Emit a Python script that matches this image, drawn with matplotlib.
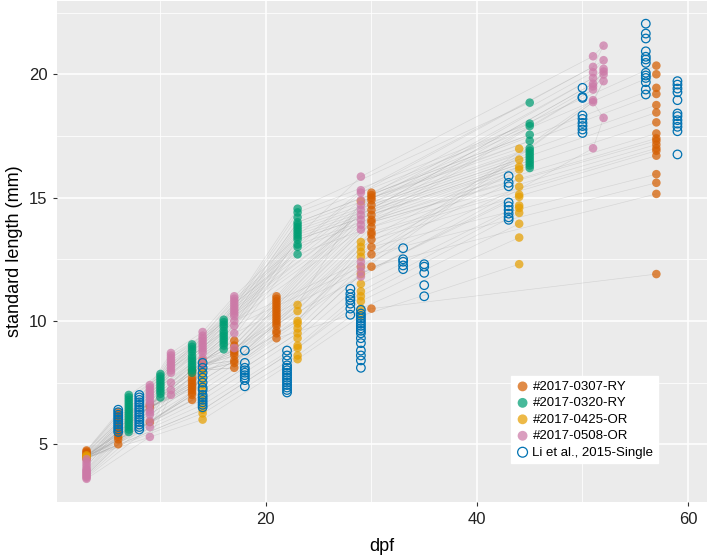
import numpy as np
import matplotlib
matplotlib.use('Agg')
import matplotlib.pyplot as plt

plt.rcParams['font.family'] = ['Liberation Sans', 'DejaVu Sans']

# standard length (mm) per day post fertilisation, one list per sampling day
orange_days = [3, 6, 9, 13, 14, 17, 21, 30, 57]
orange_sl = [
    [4.75, 4.7, 4.65, 4.6, 4.55, 4.5, 4.45, 4.4],
    [6.3, 6.2, 6.1, 6.0, 5.9, 5.8, 5.7, 5.6, 5.5, 5.4, 5.3, 5.2, 5.0],
    [6.6, 6.5, 5.9],
    [8.0, 7.9, 7.7, 7.6, 7.5, 7.4, 7.3, 7.2, 7.1, 7.0, 6.8],
    [8.4, 8.2, 8.0],
    [9.2, 9.0, 8.8, 8.7, 8.6, 8.4, 8.3, 8.1],
    [11.0, 10.9, 10.8, 10.7, 10.6, 10.5, 10.4, 10.3, 10.2, 10.1, 10.0, 9.9, 9.8, 9.6, 9.5, 9.3],
    [15.2, 15.1, 15.0, 14.9, 14.7, 14.5, 14.3, 14.1, 14.0, 13.8, 13.6, 13.5, 13.3, 13.0, 12.7, 12.2, 10.5],
    [20.35, 20.0, 19.45, 19.2, 18.75, 18.45, 18.05, 17.6, 17.4, 17.3, 17.15, 17.0, 16.9, 16.7,
     15.95, 15.6, 15.15, 11.9],
]

green_days = [7, 10, 13, 16, 23, 45]
green_sl = [
    [7.0, 6.9, 6.8, 6.7, 6.6, 6.5, 6.4, 6.3, 6.2, 6.1, 6.0, 5.9, 5.8, 5.7, 5.6, 5.5],
    [7.85, 7.75, 7.65, 7.55, 7.45, 7.35, 7.25, 7.15, 7.05, 6.9],
    [9.05, 8.95, 8.85, 8.75, 8.6, 8.5, 8.4, 8.3, 8.2, 8.1, 8.0, 7.9],
    [10.05, 9.95, 9.85, 9.75, 9.6, 9.5, 9.4, 9.3, 9.2, 9.1, 9.0, 8.85],
    [14.55, 14.4, 14.2, 14.0, 13.9, 13.8, 13.7, 13.6, 13.5, 13.4, 13.3, 13.1, 13.0, 12.7],
    [18.85, 18.0, 17.9, 17.55, 17.3, 17.0, 16.9, 16.8, 16.7, 16.6, 16.5, 16.4, 16.3, 16.2],
]

yellow_days = [3, 14, 23, 29, 44]
yellow_sl = [
    [4.55, 4.5, 4.45],
    [8.0, 7.8, 7.6, 7.4, 7.2, 7.0, 6.8, 6.6, 6.4, 6.25, 6.0],
    [10.65, 10.4, 10.0, 9.9, 9.7, 9.5, 9.3, 9.0, 8.9, 8.6, 8.45],
    [14.85, 13.2, 13.0, 12.8, 12.6, 12.2, 11.9, 11.5, 11.2, 11.0, 10.8, 10.5, 10.2],
    [16.98, 16.54, 16.25, 16.14, 15.79, 15.44, 15.12, 15.03, 14.68, 14.58, 14.38, 13.94, 13.38, 12.3],
]

pink_days = [3, 9, 11, 14, 17, 29, 51, 52]
pink_sl = [
    [4.4, 4.3, 4.2, 4.1, 4.0, 3.95, 3.9, 3.85, 3.8, 3.75, 3.7, 3.65, 3.6],
    [7.4, 7.3, 7.2, 7.1, 7.0, 6.9, 6.8, 6.7, 6.6, 6.4, 6.3, 6.2, 5.95, 5.7, 5.3],
    [8.7, 8.6, 8.5, 8.4, 8.3, 8.2, 8.1, 8.0, 7.9, 7.5, 7.2, 7.0],
    [9.55, 9.4, 9.3, 9.2, 9.1, 9.0, 8.9, 8.8, 8.7, 8.5, 8.2],
    [11.0, 10.9, 10.8, 10.7, 10.6, 10.5, 10.4, 10.3, 10.2, 10.0, 9.8, 9.5, 8.9],
    [15.85, 15.3, 15.2, 14.9, 14.7, 14.5, 14.3, 14.1, 13.9, 13.7, 12.4, 12.2, 12.0, 11.8],
    [20.73, 20.3, 20.08, 19.85, 19.62, 19.51, 19.38, 18.95, 18.87, 17.0],
    [21.16, 20.57, 20.22, 20.11, 19.99, 19.72, 18.23],
]

li_days = [6, 8, 14, 18, 22, 28, 29, 33, 35, 43, 50, 56, 59]
li_sl = [
    [6.4, 6.3, 6.2, 6.1, 6.0, 5.9, 5.8, 5.7, 5.6, 5.5],
    [7.0, 6.9, 6.8, 6.7, 6.6, 6.5, 6.4, 6.3, 6.2, 6.1, 6.0, 5.9, 5.8, 5.7, 5.6],
    [8.3, 8.1, 7.9, 7.7, 7.5, 7.3, 7.2, 7.0, 6.9, 6.8, 6.7, 6.6, 6.5],
    [8.8, 8.3, 8.1, 8.0, 7.9, 7.8, 7.7, 7.6, 7.35],
    [8.8, 8.6, 8.4, 8.2, 8.1, 8.0, 7.9, 7.8, 7.7, 7.6, 7.5, 7.4, 7.3, 7.2, 7.1],
    [11.3, 11.1, 10.95, 10.85, 10.7, 10.5, 10.25],
    [10.45, 10.3, 10.2, 10.1, 10.0, 9.9, 9.8, 9.7, 9.6, 9.5, 9.3, 9.1, 8.8, 8.6, 8.4, 8.1],
    [12.95, 12.5, 12.4, 12.25, 12.1],
    [12.3, 12.2, 11.95, 11.45, 11.0],
    [15.87, 15.6, 15.46, 14.8, 14.65, 14.5, 14.35, 14.2, 14.1],
    [19.45, 19.08, 19.04, 18.33, 18.19, 18.03, 17.9, 17.76, 17.62],
    [22.05, 21.65, 21.45, 20.93, 20.71, 20.6, 20.46, 20.06, 19.95, 19.85, 19.68, 19.38, 19.18],
    [19.72, 19.58, 19.42, 19.27, 18.95, 18.41, 18.3, 18.14, 18.0, 17.87, 17.69, 16.75],
]

groups = [
    ('#2017-0307-RY', orange_days, orange_sl, '#D55E00'),
    ('#2017-0320-RY', green_days, green_sl, '#009E73'),
    ('#2017-0425-OR', yellow_days, yellow_sl, '#E69F00'),
    ('#2017-0508-OR', pink_days, pink_sl, '#CC79A7'),
]


def trajectories(days, sl):
    # link fish across days by their rank within each sampling day
    cols = [np.sort(np.array(v))[::-1] for v in sl]
    n = max(len(c) for c in cols)
    lines = []
    for i in range(n):
        ys = [c[int(round(i * (len(c) - 1) / (n - 1)))] for c in cols]
        lines.append(ys)
    return lines


fig = plt.figure(figsize=(7.09, 5.58), dpi=100)
ax = fig.add_axes([57 / 709, 1 - 502 / 558, 650 / 709, 501 / 558])
ax.set_facecolor('#EBEBEB')

for name, days, sl, col in groups:
    for ys in trajectories(days, sl):
        ax.plot(days, ys, color='#A0A0A0', lw=0.45, alpha=0.3, zorder=1)

for name, days, sl, col in groups:
    xs = np.concatenate([[d] * len(v) for d, v in zip(days, sl)])
    ys = np.concatenate(sl)
    ax.scatter(xs, ys, s=38, color=col, alpha=0.72, edgecolors='none', label=name, zorder=3)

xs = np.concatenate([[d] * len(v) for d, v in zip(li_days, li_sl)])
ys = np.concatenate(li_sl)
ax.scatter(xs, ys, s=38, facecolors='none', edgecolors='#0072B2', linewidths=0.9,
           label='Li et al., 2015-Single', zorder=4)

ax.set_xlim(0.2, 61.8)
ax.set_ylim(2.66, 22.97)
ax.set_xticks([20, 40, 60])
ax.set_yticks([5, 10, 15, 20])
ax.set_xticks([10, 30, 50], minor=True)
ax.set_yticks([7.5, 12.5, 17.5, 22.5], minor=True)
ax.grid(which='major', color='white', lw=1.1)
ax.grid(which='minor', color='white', lw=0.55)
ax.set_axisbelow(True)
for s in ax.spines.values():
    s.set_visible(False)
ax.tick_params(which='major', length=3, width=0.8, color='#333333', labelsize=12,
               labelcolor='#222222', pad=4)
ax.tick_params(which='minor', length=0)

ax.set_xlabel('dpf', fontsize=13, va='center')
ax.xaxis.set_label_coords(0.5, -0.089)
ax.set_ylabel('standard length (mm)', fontsize=13, va='center')
ax.yaxis.set_label_coords(-0.066, 0.5)

leg = ax.legend(loc='upper left', bbox_to_anchor=(0.698, 0.2515), borderaxespad=0,
                frameon=True, fancybox=False, edgecolor='white', facecolor='white',
                framealpha=1, fontsize=9.5, handletextpad=0.2, labelspacing=0.32,
                borderpad=0.35, handlelength=1.1, scatterpoints=1, markerscale=1.15)

fig.savefig('out.png', dpi=100)
